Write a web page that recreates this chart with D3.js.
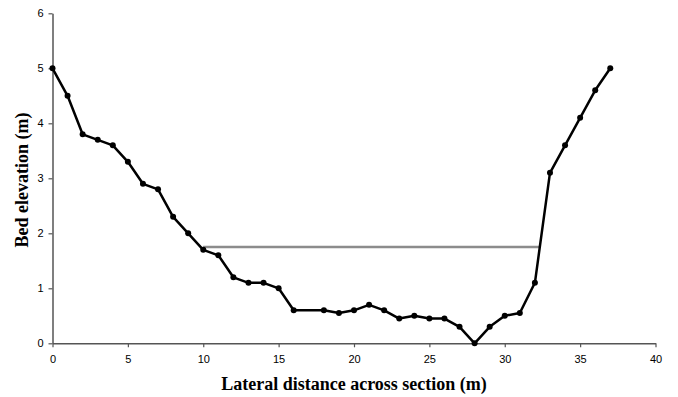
<!DOCTYPE html>
<html>
<head>
<meta charset="utf-8">
<script src="https://cdn.jsdelivr.net/npm/d3@7"></script>
<style>
  html, body { margin: 0; padding: 0; background: #fff; }
  svg { display: block; }
  .tick text { font-family: "Liberation Sans", Arial, sans-serif; font-size: 11px; fill: #000; }
  .axis-title { font-family: "Liberation Serif", "Times New Roman", serif; font-weight: bold; font-size: 18px; fill: #000; }
</style>
</head>
<body>
<script>
// Cross-section survey: lateral distance (m) and bed elevation (m)
const distance = [0, 1, 2, 3, 4, 5, 6, 7, 8, 9, 10, 11, 12, 13, 14, 15, 16, 18, 19, 20, 21, 22, 23, 24, 25, 26, 27, 28, 29, 30, 31, 32, 33, 34, 35, 36, 37];
const elevation = [5.0, 4.5, 3.8, 3.7, 3.6, 3.3, 2.9, 2.8, 2.3, 2.0, 1.7, 1.6, 1.2, 1.1, 1.1, 1.0, 0.6, 0.6, 0.55, 0.6, 0.7, 0.6, 0.45, 0.5, 0.45, 0.45, 0.3, 0.0, 0.3, 0.5, 0.55, 1.1, 3.1, 3.6, 4.1, 4.6, 5.0];

// Water surface level across the channel
const waterX = [10, 32.33];
const waterLevel = [1.75, 1.75];

const xTicks = [0, 5, 10, 15, 20, 25, 30, 35, 40];
const yTicks = [0, 1, 2, 3, 4, 5, 6];

const W = 678, H = 397;
const plot = { left: 52.5, right: 655.5, top: 13.3, bottom: 343.3 };

const svg = d3.select("body").append("svg").attr("width", W).attr("height", H);

const x = d3.scaleLinear().domain([0, 40]).range([plot.left, plot.right]);
const y = d3.scaleLinear().domain([0, 6]).range([plot.bottom, plot.top]);

const axisColor = "#555";

const xAxis = svg.append("g")
  .attr("transform", `translate(0,${plot.bottom})`)
  .call(d3.axisBottom(x).tickValues(xTicks).tickFormat(d3.format("d"))
    .tickSize(4).tickPadding(7.5).tickSizeOuter(0));
const yAxis = svg.append("g")
  .attr("transform", `translate(${plot.left},0)`)
  .call(d3.axisLeft(y).tickValues(yTicks).tickFormat(d3.format("d"))
    .tickSize(4).tickPadding(5).tickSizeOuter(0));
[xAxis, yAxis].forEach(g => {
  g.selectAll(".domain").attr("stroke", axisColor).attr("stroke-width", 1.5);
  g.selectAll(".tick line").attr("stroke", axisColor).attr("stroke-width", 1.2);
});

// Water surface
const water = waterX.map((d, i) => [d, waterLevel[i]]);
svg.append("path")
  .datum(water)
  .attr("fill", "none")
  .attr("stroke", "#8c8c8c")
  .attr("stroke-width", 2.5)
  .attr("d", d3.line().x(d => x(d[0])).y(d => y(d[1])));

// Bed profile
const bed = distance.map((d, i) => [d, elevation[i]]);
svg.append("path")
  .datum(bed)
  .attr("fill", "none")
  .attr("stroke", "#000")
  .attr("stroke-width", 2.5)
  .attr("stroke-linejoin", "round")
  .attr("d", d3.line().x(d => x(d[0])).y(d => y(d[1])));

svg.append("g").selectAll("circle")
  .data(bed)
  .join("circle")
  .attr("cx", d => x(d[0]))
  .attr("cy", d => y(d[1]))
  .attr("r", 3)
  .attr("fill", "#000");

svg.append("text")
  .attr("class", "axis-title")
  .attr("x", 354)
  .attr("y", 390)
  .attr("text-anchor", "middle")
  .text("Lateral distance across section (m)");

svg.append("text")
  .attr("class", "axis-title")
  .attr("transform", "translate(27.5,180) rotate(-90)")
  .attr("text-anchor", "middle")
  .text("Bed elevation (m)");
</script>
</body>
</html>
